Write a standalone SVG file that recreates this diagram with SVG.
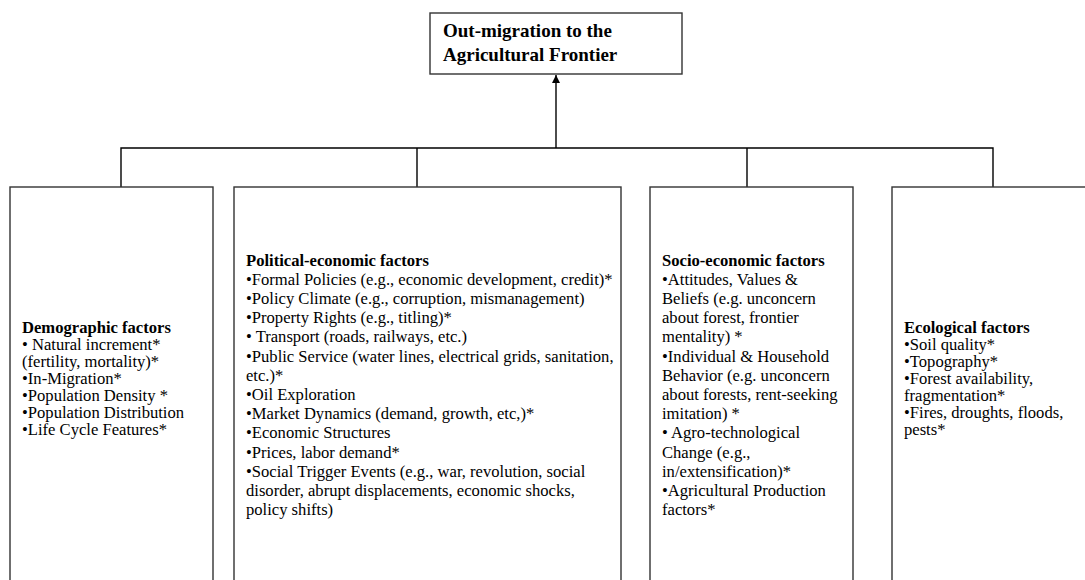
<svg xmlns="http://www.w3.org/2000/svg" width="1085" height="580" viewBox="0 0 1085 580">
<defs>
<style>
.box{fill:#fff;stroke:#333;stroke-width:1.4}
.con{fill:none;stroke:#000;stroke-width:1.4}
text{font-family:"Liberation Serif","Times New Roman",serif;fill:#000}
.t{font-size:19px;font-weight:bold}
.b{font-size:16.6px}
.h{font-weight:bold}
</style>
<marker id="ah" viewBox="0 0 10 10" refX="10" refY="5" markerWidth="8" markerHeight="8" markerUnits="userSpaceOnUse" orient="auto">
<path d="M0,0 L10,5 L0,10 z" fill="#000"/>
</marker>
</defs>
<rect width="1085" height="580" fill="#fff"/>
<g id="connectors">
<path class="con" d="M121,187 V148 H993 V187 M417,148 V187 M747,148 V187"/>
<path class="con" d="M556,148 V75" marker-end="url(#ah)"/>
</g>
<g id="top">
<rect class="box" x="430" y="13" width="252" height="61"/>
<text class="t" x="443" y="37">Out-migration to the</text>
<text class="t" x="443" y="61">Agricultural Frontier</text>
</g>
<g id="demographic">
<rect class="box" x="10" y="187" width="203" height="420"/>
<text class="b" x="22" y="333"><tspan class="h">Demographic factors</tspan><tspan x="22" dy="17">• Natural increment*</tspan><tspan x="22" dy="17">(fertility, mortality)*</tspan><tspan x="22" dy="17">•In-Migration*</tspan><tspan x="22" dy="17">•Population Density *</tspan><tspan x="22" dy="17">•Population Distribution</tspan><tspan x="22" dy="17">•Life Cycle Features*</tspan></text>
</g>
<g id="political">
<rect class="box" x="234" y="187" width="387" height="420"/>
<text class="b" x="246" y="265.5"><tspan class="h">Political-economic factors</tspan><tspan x="246" dy="19.2">•Formal Policies (e.g., economic development, credit)*</tspan><tspan x="246" dy="19.2">•Policy Climate (e.g., corruption, mismanagement)</tspan><tspan x="246" dy="19.2">•Property Rights (e.g., titling)*</tspan><tspan x="246" dy="19.2">• Transport (roads, railways, etc.)</tspan><tspan x="246" dy="19.2">•Public Service (water lines, electrical grids, sanitation,</tspan><tspan x="246" dy="19.2">etc.)*</tspan><tspan x="246" dy="19.2">•Oil Exploration</tspan><tspan x="246" dy="19.2">•Market Dynamics (demand, growth, etc,)*</tspan><tspan x="246" dy="19.2">•Economic Structures</tspan><tspan x="246" dy="19.2">•Prices, labor demand*</tspan><tspan x="246" dy="19.2">•Social Trigger Events (e.g., war, revolution, social</tspan><tspan x="246" dy="19.2">disorder, abrupt displacements, economic shocks,</tspan><tspan x="246" dy="19.2">policy shifts)</tspan></text>
</g>
<g id="socio">
<rect class="box" x="650" y="187" width="203" height="420"/>
<text class="b" x="662" y="265.5"><tspan class="h">Socio-economic factors</tspan><tspan x="662" dy="19.2">•Attitudes, Values &amp;</tspan><tspan x="662" dy="19.2">Beliefs (e.g. unconcern</tspan><tspan x="662" dy="19.2">about forest, frontier</tspan><tspan x="662" dy="19.2">mentality) *</tspan><tspan x="662" dy="19.2">•Individual &amp; Household</tspan><tspan x="662" dy="19.2">Behavior (e.g. unconcern</tspan><tspan x="662" dy="19.2">about forests, rent-seeking</tspan><tspan x="662" dy="19.2">imitation) *</tspan><tspan x="662" dy="19.2">• Agro-technological</tspan><tspan x="662" dy="19.2">Change (e.g.,</tspan><tspan x="662" dy="19.2">in/extensification)*</tspan><tspan x="662" dy="19.2">•Agricultural Production</tspan><tspan x="662" dy="19.2">factors*</tspan></text>
</g>
<g id="ecological">
<rect class="box" x="892" y="187" width="220" height="420"/>
<text class="b" x="904" y="333"><tspan class="h">Ecological factors</tspan><tspan x="904" dy="17">•Soil quality*</tspan><tspan x="904" dy="17">•Topography*</tspan><tspan x="904" dy="17">•Forest availability,</tspan><tspan x="904" dy="17">fragmentation*</tspan><tspan x="904" dy="17">•Fires, droughts, floods,</tspan><tspan x="904" dy="17">pests*</tspan></text>
</g>
</svg>
